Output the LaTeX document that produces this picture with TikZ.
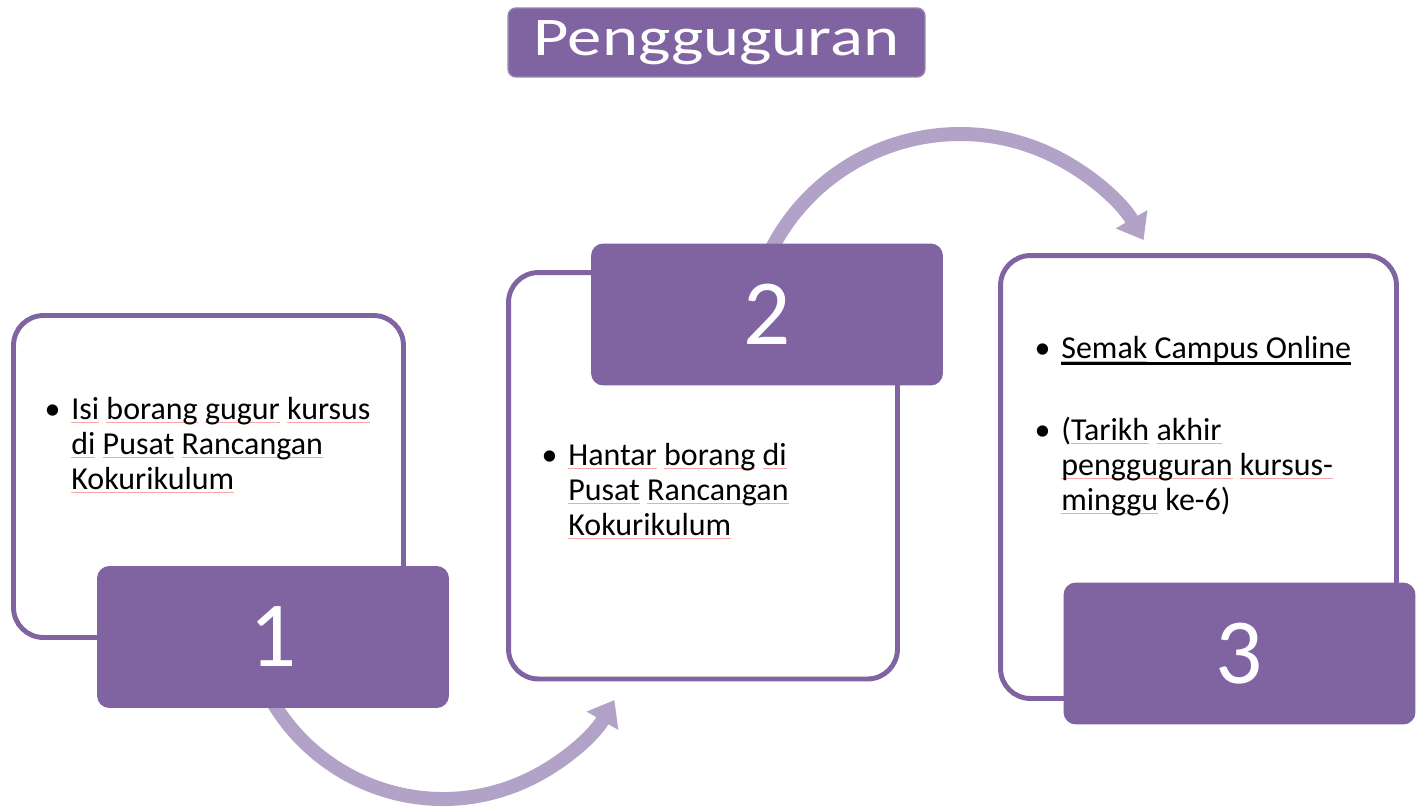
\documentclass[tikz,border=0pt]{standalone}
\usepackage{fontspec}
\setmainfont{Carlito}
\usetikzlibrary{arrows.meta, positioning}
\definecolor{boxcolor}{RGB}{128, 100, 162}
\definecolor{flowcolor}{RGB}{179, 162, 199}
\definecolor{spellcolor}{RGB}{248, 165, 165}

% spell-check marks and the link underline
\newcommand{\spell}[1]{\setbox0\hbox{#1}\rlap{\textcolor{spellcolor}{\rule[-2pt]{\wd0}{0.55pt}}}#1}
\newcommand{\linkline}[1]{\setbox2\hbox{#1}\rlap{\rule[-3.9pt]{\wd2}{1.5pt}}#1}
\newcommand{\bul}{\llap{\makebox[21.5pt]{•}}}

\begin{document}
\begin{tikzpicture}[
    x=0.02cm, y=-0.02cm,
    titlebox/.style={fill=boxcolor, draw=boxcolor!80!white, line width=0.8pt, rounded corners=4.5pt, minimum width=8.34cm, minimum height=1.38cm, text=white, font=\fontsize{31}{37}\selectfont},
    stepbox/.style={draw=boxcolor, line width=2.8pt, fill=white, rounded corners=17pt},
    numbox/.style={fill=boxcolor, rounded corners=7pt, minimum width=7.04cm, minimum height=2.84cm, text=white, font=\fontsize{53}{60}\selectfont},
    steptext/.style={anchor=base west, align=left, inner sep=0pt, font=\fontsize{18.2}{19.85}\selectfont},
    flow/.style={draw=flowcolor, line width=0.28cm, -{Triangle[width=0.7cm, length=0.48cm]}}
]
\useasboundingbox (0, 0) rectangle (1422, 808);

% Title
\node[titlebox] (title) at (716.5, 42.5) {\scalebox{1.26}[1]{Pengguguran}};

% Curved arrows (behind the boxes)
\coordinate (arcA) at (443, 601);
\coordinate (arcB) at (960, 346);
\draw[flow] ([shift={(205:3.96cm)}]arcA) arc[start angle=205, end angle=330, radius=3.96cm];
\draw[flow] ([shift={(155:4.24cm)}]arcB) arc[start angle=155, end angle=30, radius=4.24cm];

% Step boxes
\node[stepbox, minimum width=7.8cm, minimum height=6.44cm] (box1) at (208.5, 476.5) {};
\node[stepbox, minimum width=7.78cm, minimum height=8.13cm] (box2) at (703, 475.75) {};
\node[stepbox, minimum width=7.92cm, minimum height=8.86cm] (box3) at (1198.5, 477) {};

% Step numbers
\node[numbox] (num1) at (273, 637) {1};
\node[numbox] (num2) at (767, 314.5) {2};
\node[numbox] (num3) at (1239.5, 653.5) {3};

% Step texts (base = last line)
\node[steptext] (text1) at (71, 489) {\bul\spell{Isi} \spell{borang} \spell{gugur} \spell{kursus}\\ \spell{di} \spell{Pusat} \spell{Rancangan}\\ \spell{Kokurikulum}};
\node[steptext] (text2) at (568, 535) {\bul\spell{Hantar} \spell{borang} \spell{di}\\ \spell{Pusat} \spell{Rancangan}\\ \spell{Kokurikulum}};
\node[steptext] (text3a) at (1061, 358) {\bul\linkline{\spell{Semak} Campus Online}};
\node[steptext] (text3b) at (1061, 510) {\bul(\spell{Tarikh} \spell{akhir}\\ \spell{pengguguran} \spell{kursus-}\\ \spell{minggu} ke-6)};

\end{tikzpicture}
\end{document}
